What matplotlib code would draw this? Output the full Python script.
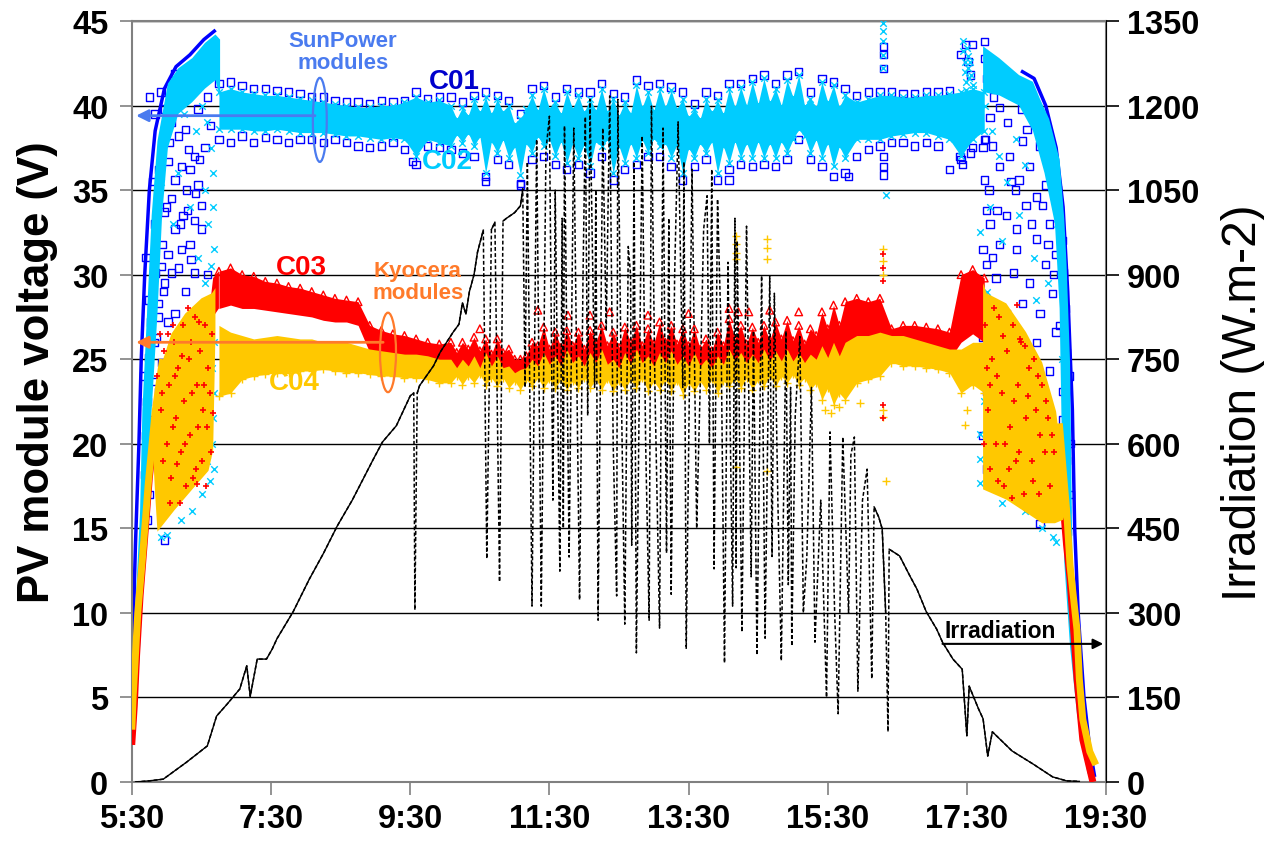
import numpy as np
import matplotlib
matplotlib.use("Agg")
import matplotlib.pyplot as plt
from matplotlib.patches import Ellipse

plt.rcParams['font.family'] = ['Liberation Sans', 'DejaVu Sans']
plt.rcParams['font.weight'] = 'bold'

BLUE = '#0000FF'
CYAN = '#00CCFF'
RED = '#FF0000'
YELLOW = '#FFC800'
SUNPOWER = '#4A7BEF'
KYOCERA = '#FF7A2A'


def hours(clock):
    h, m = clock.split(':')
    return int(h) + int(m) / 60


def unzip(pairs):
    return np.array([hours(c) for c, _ in pairs]), np.array([v for _, v in pairs])


# ---- logger samples: 10 min in the morning / evening, 5 min around noon
band_t = np.r_[np.arange(6 * 60 + 45, 10 * 60, 10),
               np.arange(10 * 60 + 5, 15 * 60 + 46, 5),
               np.arange(15 * 60 + 55, 17 * 60 + 46, 10)] / 60
c01_t = np.arange(6 * 60 + 45, 17 * 60 + 46, 10) / 60

c01_hi = [41.3, 41.4, 41.2, 41.0, 41.0, 40.9, 40.8, 40.7, 40.5, 40.5, 40.3, 40.2, 40.2, 40.1, 40.3, 40.2, 40.3, 40.8, 40.4, 40.5,
          40.5, 40.2, 40.6, 40.8, 40.6, 40.3, 39.5, 41.0, 41.2, 40.5, 41.0, 40.8, 40.8, 41.3, 40.7, 40.5, 41.5, 41.2, 41.3, 41.1,
          40.8, 40.1, 40.8, 40.6, 41.3, 41.3, 41.6, 41.8, 41.3, 41.8, 42.0, 40.8, 41.6, 41.4, 41.0, 40.6, 40.8, 40.8, 40.8, 40.7,
          40.7, 40.8, 40.8, 40.9, 43.0, 43.6, 43.8]
c01_lo = [38.0, 37.8, 38.2, 37.8, 38.1, 38.0, 37.8, 38.0, 38.0, 37.8, 38.0, 37.8, 37.6, 37.5, 37.6, 37.8, 37.4, 36.5, 37.6, 37.5,
          37.4, 37.2, 37.0, 35.8, 36.8, 36.5, 35.4, 36.8, 37.0, 36.5, 36.2, 36.5, 36.0, 37.0, 35.6, 36.2, 36.5, 37.0, 37.0, 36.4,
          35.6, 36.4, 36.8, 35.6, 36.2, 36.5, 36.4, 36.5, 36.4, 36.8, 38.0, 36.8, 36.4, 35.8, 36.0, 37.0, 37.4, 37.6, 37.8, 37.8,
          37.6, 37.8, 37.6, 36.2, 36.8, 37.5, 38.0]

c02_hi = [40.8, 41.0, 40.8, 40.7, 40.6, 40.6, 40.5, 40.4, 40.3, 40.2, 40.1, 40.0, 39.9, 39.9, 40.0, 40.0, 40.2, 40.5, 40.2, 40.3,
          40.0, 39.2, 39.9, 39.4, 40.4, 39.6, 40.5, 39.5, 40.4, 39.6,
          40.0, 38.9, 39.2, 39.8, 40.6, 39.7, 41.0, 39.8, 40.2, 39.5,
          40.8, 39.8, 40.6, 39.6, 40.4, 39.7, 41.0, 39.6, 40.4, 39.4,
          40.2, 39.5, 41.2, 39.9, 40.8, 39.7, 41.0, 39.9, 40.9, 39.8,
          40.4, 39.3, 39.8, 39.2, 40.4, 39.6, 40.3, 39.5, 41.0, 39.9,
          41.1, 40.0, 41.4, 40.1, 41.6, 40.2, 41.0, 40.0, 41.5, 40.5,
          41.8, 40.0, 40.4, 39.9, 41.4, 40.2, 41.2, 39.9, 40.6,
          40.2, 40.4, 40.6, 40.6, 40.5, 40.5, 40.6, 40.6, 40.7, 40.8, 41.0, 40.8]
c02_lo = [38.6, 38.6, 38.6, 38.5, 38.5, 38.6, 38.5, 38.4, 38.4, 38.4, 38.3, 38.2, 38.2, 38.1, 38.0, 38.1, 38.0, 37.0, 38.0, 37.8,
          37.6, 38.3, 37.8, 38.4, 37.6, 38.2, 36.0, 37.9, 37.2, 38.0,
          36.9, 37.6, 35.9, 37.8, 37.2, 38.2, 37.6, 38.0, 37.0, 37.9,
          36.6, 37.8, 36.9, 37.7, 36.4, 37.9, 37.6, 38.0, 36.0, 37.6,
          36.6, 37.8, 36.9, 38.0, 37.2, 38.1, 37.6, 37.8, 36.9, 37.7,
          36.0, 37.5, 36.9, 37.8, 37.2, 37.9, 36.0, 37.6, 36.6, 37.9,
          36.9, 37.8, 36.9, 37.9, 36.9, 37.8, 36.9, 37.9, 37.2, 38.0,
          38.6, 38.2, 37.2, 38.0, 36.9, 37.8, 36.4, 37.6, 36.9,
          38.0, 38.0, 38.0, 38.2, 38.3, 38.4, 38.4, 38.2, 38.0, 37.0, 38.0, 38.5]
c03_hi = [30.2, 30.4, 30.0, 29.9, 29.6, 29.5, 29.3, 29.2, 29.0, 28.8, 28.6, 28.5, 28.4, 27.0, 26.7, 26.5, 26.4, 26.2, 26.0, 25.9,
          26.0, 25.4, 26.0, 25.6, 26.3, 25.5, 26.2, 25.3, 26.2, 25.4,
          25.6, 25.0, 25.0, 25.2, 26.0, 25.8, 26.9, 25.6, 26.6, 25.7,
          26.7, 25.8, 26.6, 25.6, 26.7, 26.0, 27.0, 25.8, 26.6, 25.7,
          26.9, 26.0, 27.0, 25.8, 26.8, 25.9, 27.2, 26.0, 27.0, 25.9,
          26.8, 25.8, 26.8, 25.6, 26.2, 25.5, 26.6, 25.8, 27.4, 26.2,
          27.0, 25.9, 26.9, 26.0, 27.0, 26.1, 27.2, 26.2, 27.3, 26.1,
          27.0, 25.9, 26.8, 26.4, 27.8, 26.8, 28.2, 27.0, 28.4,
          28.6, 28.4, 28.6, 26.8, 27.0, 27.0, 26.9, 26.8, 26.6, 30.0, 30.3, 29.8]
c03_lo = [28.0, 28.2, 28.0, 28.0, 27.9, 27.8, 27.7, 27.6, 27.5, 27.3, 27.2, 27.2, 27.0, 25.4, 25.2, 25.0, 24.9, 24.8, 24.7, 24.6,
          24.5, 24.3, 24.4, 24.3, 24.5, 24.2, 24.3, 24.2, 24.4, 24.3,
          24.2, 24.0, 24.0, 24.1, 24.3, 24.4, 24.5, 24.3, 24.4, 24.2,
          24.3, 24.2, 24.4, 24.2, 24.3, 24.3, 24.5, 24.2, 24.2, 24.1,
          24.4, 24.3, 24.3, 24.2, 24.4, 24.2, 24.5, 24.3, 24.3, 24.2,
          24.2, 24.1, 24.3, 24.2, 24.2, 24.1, 24.2, 24.2, 24.5, 24.3,
          24.3, 24.2, 24.3, 24.2, 24.4, 24.3, 24.5, 24.3, 24.5, 24.4,
          24.4, 24.3, 24.3, 24.4, 24.6, 24.5, 25.0, 24.8, 25.2,
          25.0, 25.2, 25.0, 25.4, 25.4, 25.3, 25.2, 25.1, 25.0, 26.0, 26.5, 26.0]
c04_hi = [27.0, 26.6, 26.4, 26.2, 26.3, 26.4, 26.3, 26.2, 26.2, 26.0, 26.0, 26.0, 25.8, 25.6, 25.5, 25.4, 25.3, 25.3, 25.2, 25.0,
          25.0, 24.5, 25.0, 24.6, 25.2, 24.5, 25.4, 24.6, 25.2, 24.5,
          24.6, 24.2, 24.4, 24.5, 25.0, 24.6, 25.4, 24.7, 25.2, 24.6,
          25.6, 24.8, 25.2, 24.6, 25.4, 24.8, 25.6, 24.7, 25.0, 24.5,
          25.4, 24.7, 25.6, 24.8, 25.2, 24.6, 25.4, 24.8, 25.5, 24.7,
          25.2, 24.6, 25.4, 24.6, 25.0, 24.5, 25.2, 24.7, 25.6, 24.9,
          25.4, 24.8, 25.3, 24.8, 25.6, 24.9, 25.5, 24.9, 25.6, 24.9,
          25.4, 24.8, 25.3, 25.0, 25.8, 25.1, 26.0, 25.2, 26.0,
          26.4, 26.4, 26.6, 26.4, 26.4, 26.2, 26.0, 25.8, 25.6, 25.6, 26.0, 26.0]
c04_lo = [22.8, 23.0, 23.8, 24.0, 24.1, 24.2, 24.2, 24.3, 24.3, 24.4, 24.3, 24.2, 24.2, 24.1, 24.0, 24.0, 23.9, 23.9, 23.8, 23.6,
          23.6, 24.0, 23.5, 24.0, 23.6, 24.1, 23.5, 23.9, 23.4, 23.9,
          23.3, 23.7, 23.2, 23.8, 23.4, 23.9, 23.3, 23.8, 23.3, 23.8,
          23.2, 23.7, 23.3, 23.9, 23.3, 23.8, 23.2, 23.8, 23.1, 23.7,
          23.2, 23.8, 23.3, 23.9, 23.1, 23.7, 23.2, 23.8, 23.1, 23.7,
          22.9, 23.6, 23.1, 23.7, 23.2, 23.8, 23.0, 23.7, 23.4, 23.9,
          23.3, 23.9, 23.2, 23.8, 23.4, 24.0, 23.4, 24.0, 23.6, 24.1,
          23.5, 23.9, 23.2, 23.6, 22.6, 23.3, 22.3, 23.0, 22.6,
          23.6, 23.8, 24.0, 24.8, 24.6, 24.6, 24.5, 24.4, 24.2, 23.0, 23.5, 23.0]

# ---- sunrise / sunset transients
c02_am_outer = [("5:30", 2.6), ("5:31", 6.0), ("5:33", 10.3), ("5:37", 16.0), ("5:39", 22.0), ("5:43", 27.7), ("5:47", 33.5),
                ("5:52", 37.9), ("6:01", 41.3), ("6:10", 42.2), ("6:22", 42.8), ("6:33", 43.7), ("6:42", 44.2), ("6:46", 43.9)]
c02_am_inner = [("5:33", 3.0), ("5:37", 8.0), ("5:40", 12.0), ("5:44", 16.0), ("5:47", 22.0), ("5:52", 27.7), ("5:56", 33.5),
                ("6:01", 37.5), ("6:10", 39.5), ("6:22", 40.2), ("6:33", 41.0), ("6:42", 41.5), ("6:46", 40.5)]
c01_am_ramp = [("5:30", 4.0), ("5:31", 9.0), ("5:33", 14.0), ("5:36", 20.0), ("5:38", 25.0), ("5:41", 30.0), ("5:45", 35.0),
               ("5:50", 38.5), ("5:58", 41.0), ("6:08", 42.3), ("6:20", 43.0), ("6:32", 43.9), ("6:41", 44.4)]
c04_am_poly = [("5:47", 21.0), ("5:56", 24.8), ("6:04", 26.5), ("6:16", 27.7), ("6:30", 28.6), ("6:39", 28.9), ("6:42", 29.2),
               ("6:42", 26.5), ("6:40", 19.6), ("6:36", 18.4), ("6:22", 17.3), ("6:07", 16.1), ("5:52", 14.8), ("5:50", 17.0)]
c04_am_ramp = [("5:30", 3.3), ("5:31", 5.0), ("5:33", 7.5), ("5:35", 10.0), ("5:39", 13.2), ("5:44", 17.6), ("5:50", 21.9),
               ("5:56", 24.8)]
c03_am_ramp = [("5:30", 2.4), ("5:32", 4.5), ("5:34", 7.5), ("5:37", 11.0), ("5:41", 14.5), ("5:45", 18.0), ("5:49", 20.5)]
c03_am_poly = [("6:38", 28.6), ("6:40", 29.8), ("6:45", 30.2), ("6:45", 28.0), ("6:40", 27.5)]

c02_pm_outer = [("17:44", 43.5), ("17:58", 42.8), ("18:15", 41.8), ("18:27", 41.4), ("18:33", 40.4), ("18:41", 39.2),
                ("18:50", 36.8), ("18:54", 33.3), ("18:56", 30.6), ("18:59", 24.8), ("19:00", 19.0), ("19:01", 13.2),
                ("19:05", 8.9), ("19:10", 4.6), ("19:18", 0.5), ("19:20", 0.3)]
c02_pm_inner = [("17:44", 40.8), ("17:58", 40.6), ("18:15", 40.0), ("18:27", 38.5), ("18:37", 36.0), ("18:46", 33.0),
                ("18:50", 28.0), ("18:52", 20.0), ("18:54", 13.0), ("18:59", 8.0), ("19:05", 4.0), ("19:14", 0.5)]
c01_pm_ramp = [("18:18", 42.0), ("18:28", 41.6), ("18:38", 40.0), ("18:47", 37.5), ("18:53", 34.0), ("18:57", 29.0),
               ("19:01", 22.0), ("19:03", 15.0), ("19:06", 10.0), ("19:11", 5.0), ("19:16", 2.0), ("19:20", 0.4)]
c04_pm_poly = [("17:44", 29.5), ("17:47", 28.9), ("18:04", 28.3), ("18:21", 26.6), ("18:35", 24.8), ("18:47", 21.9),
               ("18:53", 18.5), ("18:56", 16.1), ("18:53", 15.5), ("18:46", 15.3), ("18:35", 15.3), ("18:24", 15.8),
               ("18:04", 16.7), ("17:44", 17.3)]
c04_pm_ramp = [("18:50", 21.0), ("18:53", 18.5), ("18:56", 16.1), ("18:59", 12.8), ("19:01", 11.5), ("19:05", 9.0),
               ("19:07", 6.1), ("19:10", 3.7), ("19:16", 1.8), ("19:20", 1.2)]
c03_pm_ramp = [("18:50", 19.5), ("18:53", 16.5), ("18:56", 14.0), ("18:59", 12.0), ("19:05", 6.1), ("19:10", 2.5),
               ("19:18", 0.2)]

# ---- scattered samples (unstable readings at dawn / dusk and spikes)
c01_pts = [("6:07", 41.9), ("6:21", 41.2), ("6:04", 39.0), ("6:10", 38.2), ("6:19", 37.4), ("6:01", 36.7), ("6:13", 36.4),
           ("6:24", 37.0), ("6:07", 35.6), ("6:17", 35.0), ("6:04", 34.5), ("5:58", 33.7), ("6:14", 33.5), ("6:24", 33.2),
           ("6:07", 32.7), ("5:56", 31.8), ("6:20", 31.8), ("6:01", 31.2), ("6:10", 30.4), ("5:50", 30.1), ("6:24", 30.1),
           ("5:58", 29.5), ("6:16", 29.0), ("5:53", 28.3), ("6:07", 27.7), ("5:46", 27.2), ("6:01", 27.2), ("5:51", 26.3),
           ("5:44", 25.1), ("5:56", 24.8), ("5:48", 23.7), ("5:43", 22.5), ("5:53", 23.1), ("5:47", 21.4), ("5:44", 19.9),
           ("5:41", 18.2), ("5:58", 14.3), ("6:30", 32.7), ("6:30", 34.1), ("6:27", 35.3), ("6:20", 36.2), ("5:53", 27.5),
           ("5:47", 28.0), ("5:57", 29.0), ("6:13", 31.5), ("6:04", 30.1), ("6:21", 30.9),
           ("5:45", 40.5), ("5:50", 39.5), ("5:55", 40.8), ("6:12", 40.2), ("6:27", 39.8), ("6:35", 40.5), ("5:48", 35.5),
           ("5:53", 36.2), ("6:00", 34.0), ("6:16", 38.6), ("6:25", 34.8), ("6:33", 37.5), ("5:42", 31.0), ("5:50", 33.0),
           ("5:55", 30.5), ("6:12", 33.0), ("6:18", 33.8), ("6:35", 30.0), ("5:40", 24.0), ("5:44", 28.5), ("5:49", 26.0),
           ("5:42", 20.5), ("5:45", 17.0), ("5:43", 15.5), ("6:28", 36.8), ("6:38", 38.8), ("6:02", 37.8), ("5:58", 39.8),
           ("17:45", 42.8), ("17:47", 41.6), ("17:50", 39.3), ("17:52", 37.6), ("17:45", 35.6), ("17:58", 36.4), ("18:07", 37.0),
           ("18:15", 35.6), ("18:24", 36.4), ("18:33", 37.6), ("18:38", 35.3), ("18:21", 34.1), ("18:04", 33.5), ("17:50", 33.0),
           ("17:58", 31.8), ("18:13", 31.5), ("18:30", 32.1), ("18:41", 33.0), ("17:47", 30.6), ("17:55", 29.8), ("18:10", 30.1),
           ("18:24", 29.5), ("18:38", 30.6), ("18:47", 31.2), ("17:50", 28.3), ("18:04", 27.7), ("18:18", 28.3), ("18:33", 27.7),
           ("18:44", 28.9), ("18:53", 30.1), ("17:44", 26.3), ("18:01", 25.4), ("18:15", 24.8), ("18:30", 26.0), ("18:47", 26.6),
           ("18:56", 25.4), ("17:47", 23.1), ("18:07", 23.1), ("18:41", 24.3), ("18:53", 23.1), ("17:44", 20.5), ("18:21", 19.9),
           ("18:53", 21.4), ("18:56", 19.0), ("17:47", 18.5), ("18:24", 16.4), ("18:33", 15.3), ("18:56", 16.1), ("18:13", 32.7),
           ("18:35", 34.1), ("18:18", 37.9), ("17:58", 39.9),
           ("17:46", 38.0), ("17:49", 35.0), ("17:53", 40.5), ("18:00", 41.0), ("18:05", 39.0), ("18:09", 41.5), ("18:12", 35.0),
           ("18:17", 39.8), ("18:22", 38.6), ("18:27", 39.6), ("18:30", 34.6), ("18:36", 38.8), ("18:44", 36.5), ("18:48", 35.0),
           ("18:52", 32.0), ("18:55", 28.0), ("18:58", 24.0), ("18:59", 20.0), ("18:59", 17.0), ("18:57", 14.8), ("18:50", 27.0),
           ("18:45", 30.0), ("18:26", 33.0), ("18:08", 35.5), ("17:56", 33.8), ("17:52", 31.0), ("17:44", 31.5), ("17:44", 37.5),
           ("17:47", 33.8), ("18:40", 31.8),
           ("16:18", 43.5), ("16:18", 43.0), ("16:18", 42.2), ("16:18", 37.0), ("16:18", 36.4), ("16:18", 35.9), ("9:32", 36.7),
           ("17:24", 37.0), ("17:26", 36.5), ("17:33", 37.2), ("15:48", 35.8), ("14:05", 35.6), ("10:35", 35.5), ("11:05", 35.3),
           ("17:29", 43.6), ("17:31", 42.6), ("17:33", 41.8)]
c02_pts = [("6:30", 40.0), ("6:35", 39.0), ("6:38", 37.5), ("6:40", 36.0), ("6:33", 35.0), ("6:40", 34.0), ("6:36", 33.0),
           ("6:41", 31.5), ("6:38", 30.5), ("6:33", 29.5), ("6:40", 28.5), ("6:37", 27.5), ("6:41", 26.0), ("6:39", 24.5),
           ("6:41", 23.0), ("6:40", 21.5), ("6:39", 20.0), ("6:41", 18.5), ("6:37", 17.8), ("6:30", 17.0), ("6:22", 16.0),
           ("6:12", 15.5), ("6:00", 14.6), ("5:55", 14.5), ("6:25", 38.5), ("6:15", 39.5), ("6:20", 34.0), ("6:27", 31.0),
           ("6:10", 36.0), ("6:05", 33.0), ("6:00", 38.5), ("5:55", 35.5), ("5:50", 31.0), ("6:18", 27.5), ("6:26", 25.0),
           ("6:33", 22.0), ("6:35", 19.0),
           ("17:41", 32.5), ("17:41", 20.6), ("17:41", 19.1), ("17:41", 17.7), ("16:20", 34.7), ("16:18", 44.9), ("16:18", 44.4),
           ("16:18", 43.8), ("16:18", 43.0), ("16:18", 42.2), ("17:46", 40.0), ("17:52", 38.5), ("17:58", 37.0), ("18:05", 35.5),
           ("18:12", 38.0), ("18:20", 36.5), ("17:50", 34.0), ("18:00", 32.0), ("18:15", 33.5), ("18:28", 31.0), ("18:40", 29.5),
           ("17:47", 29.0), ("17:55", 26.0), ("18:10", 24.0), ("18:30", 28.5), ("18:42", 22.0), ("17:45", 22.5), ("17:50", 17.5),
           ("18:00", 16.5), ("18:20", 16.0), ("18:35", 15.0), ("18:44", 14.5), ("18:47", 14.2), ("18:10", 20.5), ("18:48", 33.0),
           ("18:52", 25.0),
           ("17:27", 43.8), ("17:27", 43.2), ("17:28", 42.6), ("17:28", 42.0), ("17:29", 41.4), ("17:30", 43.4), ("17:31", 42.9),
           ("17:31", 42.2), ("17:32", 41.6), ("17:33", 42.6), ("17:34", 41.8), ("17:35", 41.2), ("17:29", 40.9)]
c03_pts = [("5:52", 24.0), ("5:55", 22.0), ("5:58", 25.5), ("6:00", 20.0), ("6:02", 23.5), ("6:04", 18.0), ("6:06", 26.0),
           ("6:08", 21.5), ("6:10", 24.5), ("6:12", 19.5), ("6:14", 27.0), ("6:15", 22.5), ("6:17", 17.5), ("6:19", 25.0),
           ("6:20", 20.5), ("6:22", 23.0), ("6:24", 27.5), ("6:25", 18.5), ("6:27", 21.0), ("6:29", 25.5), ("6:30", 19.0),
           ("6:32", 23.5), ("6:33", 27.0), ("6:35", 21.0), ("6:36", 24.5), ("6:38", 19.5), ("6:39", 26.5), ("5:57", 19.0),
           ("6:03", 16.5), ("6:11", 16.5), ("6:18", 28.0), ("6:26", 23.5), ("6:34", 17.5), ("5:54", 26.5), ("6:07", 24.0),
           ("6:21", 26.0), ("5:56", 23.0), ("6:01", 26.5), ("6:05", 21.0), ("6:09", 18.8), ("6:13", 25.2), ("6:16", 20.0),
           ("6:23", 18.0), ("6:28", 27.2), ("6:31", 22.0), ("6:37", 23.0), ("6:40", 21.8), ("6:05", 27.0), ("6:26", 17.6),
           ("17:46", 27.0), ("17:48", 22.0), ("17:50", 18.5), ("17:52", 25.0), ("17:55", 20.0), ("17:58", 27.5), ("18:00", 23.0),
           ("18:02", 17.5), ("18:05", 25.5), ("18:07", 21.0), ("18:10", 27.0), ("18:12", 19.0), ("18:14", 23.5), ("18:17", 26.0),
           ("18:19", 17.0), ("18:21", 21.5), ("18:24", 24.5), ("18:26", 19.0), ("18:28", 25.0), ("18:30", 22.0), ("18:32", 17.0),
           ("18:35", 23.5), ("18:37", 19.5), ("18:40", 21.5), ("18:42", 17.5), ("18:45", 19.5), ("17:47", 24.5), ("17:53", 28.0),
           ("18:03", 20.0), ("18:16", 26.2), ("17:45", 20.0), ("18:09", 16.8), ("18:33", 20.5), ("18:20", 25.8),
           ("17:50", 23.5), ("17:56", 24.0), ("18:01", 26.4), ("18:06", 18.5), ("18:11", 22.5), ("18:15", 19.5), ("18:23", 22.8),
           ("18:27", 17.8), ("18:31", 24.0), ("18:38", 22.5), ("18:43", 20.5), ("17:57", 17.8), ("18:13", 28.2),
           ("16:18", 31.2), ("16:18", 30.4), ("16:18", 29.6), ("16:18", 21.5), ("16:18", 22.3)]
c03_tri = [("11:20", 27.9), ("11:46", 27.6), ("12:22", 27.8), ("12:55", 27.6), ("13:30", 27.7), ("14:05", 28.0),
           ("14:13", 27.8), ("14:22", 27.8), ("14:40", 27.9), ("15:05", 27.8), ("10:30", 26.8), ("12:05", 27.6)]
c04_pts = [("14:11", 32.3), ("14:11", 31.8), ("14:11", 31.3), ("14:11", 30.9), ("14:38", 32.1), ("14:38", 31.6),
           ("14:38", 30.9), ("14:11", 18.6), ("14:38", 18.4), ("16:18", 31.5), ("16:18", 30.8), ("16:18", 30.0),
           ("16:18", 22.0), ("16:18", 21.6), ("16:20", 17.8), ("15:28", 22.0), ("15:33", 21.8), ("15:40", 22.2),
           ("17:28", 21.1), ("17:30", 22.0), ("15:58", 22.4)]

# ---- irradiation (right axis, W.m-2)
irradiation = [
    ("5:33", 0), ("5:45", 2), ("5:57", 5), ("6:17", 35), ("6:35", 64), ("6:43", 117), ("6:52", 138), ("7:03", 165),
    ("7:09", 206), ("7:12", 152), ("7:18", 218), ("7:26", 218), ("7:31", 236), ("7:35", 254), ("7:49", 302), ("8:03", 360),
    ("8:15", 405), ("8:27", 454), ("8:40", 500), ("8:50", 540), ("8:58", 572), ("9:06", 603), ("9:18", 632), ("9:30", 685),
    ("9:33", 690), ("9:34", 305), ("9:36", 690), ("9:38", 703), ("9:50", 738), ("9:56", 763), ("10:07", 798),
    ("10:12", 812), ("10:15", 850), ("10:18", 830), ("10:21", 870), ("10:25", 900), ("10:28", 940), ("10:33", 979),
    ("10:36", 396), ("10:40", 980), ("10:43", 993), ("10:47", 355), ("10:50", 995), ("10:53", 1000), ("11:00", 1010),
    ("11:05", 1022), ("11:07", 1052), ("11:09", 700), ("11:11", 1100), ("11:15", 312), ("11:19", 1140), ("11:23", 312),
    ("11:27", 1120), ("11:30", 1181), ("11:33", 500), ("11:35", 1050), ("11:39", 374), ("11:41", 1000), ("11:42", 450),
    ("11:43", 1164), ("11:47", 399), ("11:51", 1160), ("11:56", 323), ("11:59", 900), ("12:01", 1180), ("12:03", 650),
    ("12:05", 1211), ("12:09", 700), ("12:10", 1050), ("12:12", 287), ("12:16", 1160), ("12:19", 800), ("12:22", 1217),
    ("12:25", 600), ("12:28", 330), ("12:29", 1211), ("12:32", 700), ("12:35", 280), ("12:38", 950), ("12:40", 900),
    ("12:41", 420), ("12:43", 1100), ("12:45", 229), ("12:50", 1146), ("12:53", 600), ("12:56", 287), ("12:58", 1199),
    ("13:01", 700), ("13:05", 273), ("13:08", 1160), ("13:11", 406), ("13:13", 1000), ("13:15", 333), ("13:18", 900),
    ("13:21", 1171), ("13:25", 700), ("13:26", 1100), ("13:28", 236), ("13:33", 1087), ("13:37", 450), ("13:40", 700),
    ("13:43", 980), ("13:46", 1040), ("13:48", 600), ("13:50", 1087), ("13:52", 378), ("13:55", 1034), ("13:58", 800),
    ("14:01", 211), ("14:04", 922), ("14:08", 312), ("14:10", 1000), ("14:11", 380), ("14:12", 960), ("14:16", 266),
    ("14:20", 986), ("14:24", 364), ("14:26", 800), ("14:29", 225), ("14:33", 898), ("14:36", 255), ("14:40", 898),
    ("14:42", 400), ("14:44", 867), ("14:47", 500), ("14:50", 215), ("14:54", 800), ("14:56", 350), ("14:58", 700),
    ("14:59", 241), ("15:02", 650), ("15:06", 790), ("15:09", 300), ("15:12", 400), ("15:16", 700), ("15:19", 248),
    ("15:24", 500), ("15:29", 150), ("15:32", 621), ("15:36", 300), ("15:39", 121), ("15:43", 612), ("15:48", 300),
    ("15:50", 580), ("15:53", 612), ("15:56", 161), ("16:00", 500), ("16:04", 555), ("16:08", 183), ("16:10", 488),
    ("16:14", 470), ("16:17", 449), ("16:20", 300), ("16:22", 89), ("16:23", 413), ("16:32", 401), ("16:41", 365),
    ("16:47", 342), ("16:55", 302), ("17:04", 271), ("17:09", 248), ("17:18", 218), ("17:26", 200), ("17:30", 82),
    ("17:32", 170), ("17:34", 160), ("17:40", 130), ("17:44", 112), ("17:48", 46), ("17:52", 89), ("18:09", 55),
    ("18:27", 32), ("18:44", 9), ("18:56", 2), ("19:07", 1)]

x_ticks = ["5:30", "7:30", "9:30", "11:30", "13:30", "15:30", "17:30", "19:30"]

fig, ax = plt.subplots(figsize=(12.64, 8.45), dpi=100)
fig.subplots_adjust(left=0.1044, right=0.875, bottom=0.0734, top=0.974)

sq = dict(marker='s', s=28, facecolors='none', edgecolors=BLUE, lw=1)

# C01 (blue squares)
ax.scatter(np.r_[c01_t, c01_t], np.r_[c01_hi, c01_lo], zorder=2, **sq)
for ramp in (c01_am_ramp, c01_pm_ramp):
    t, v = unzip(ramp)
    ax.plot(t, v, color=BLUE, lw=2.5, zorder=2)
t, v = unzip(c01_pts)
ax.scatter(t, v, zorder=2, **sq)

# C02 (cyan crosses)
ax.fill_between(band_t, c02_lo, c02_hi, color=CYAN, lw=0, zorder=3)
ax.scatter(np.r_[band_t, band_t], np.r_[c02_hi, c02_lo], marker='x', s=22, color=CYAN, lw=1, zorder=3)
for outer, inner in ((c02_am_outer, c02_am_inner), (c02_pm_outer, c02_pm_inner)):
    t1, v1 = unzip(outer)
    t2, v2 = unzip(inner)
    ax.fill(np.r_[t1, t2[::-1]], np.r_[v1, v2[::-1]], color=CYAN, lw=0, zorder=3)
t, v = unzip(c02_pts)
ax.scatter(t, v, marker='x', s=22, color=CYAN, lw=1, zorder=3)

# C03 (red triangles)
ax.fill_between(band_t, c03_lo, c03_hi, color=RED, lw=0, zorder=4)
ax.scatter(band_t, c03_hi, marker='^', s=30, facecolors='none', edgecolors=RED, lw=1, zorder=4)
t, v = unzip(c03_am_poly)
ax.fill(t, v, color=RED, lw=0, zorder=4)
for ramp in (c03_am_ramp, c03_pm_ramp):
    t, v = unzip(ramp)
    ax.plot(t, v, color=RED, lw=5, zorder=4)
t, v = unzip(c03_tri)
ax.scatter(t, v, marker='^', s=30, facecolors='none', edgecolors=RED, lw=1, zorder=4)

# C04 (yellow plus)
ax.fill_between(band_t, c04_lo, c04_hi, color=YELLOW, lw=0, zorder=5)
ax.scatter(band_t, c04_lo, marker='+', s=30, color=YELLOW, lw=1, zorder=5)
for poly in (c04_am_poly, c04_pm_poly):
    t, v = unzip(poly)
    ax.fill(t, v, color=YELLOW, lw=0, zorder=5)
for ramp in (c04_am_ramp, c04_pm_ramp):
    t, v = unzip(ramp)
    ax.plot(t, v, color=YELLOW, lw=5, zorder=5)
t, v = unzip(c04_pts)
ax.scatter(t, v, marker='+', s=30, color=YELLOW, lw=1, zorder=5)
# red readings seen through the yellow clouds
t, v = unzip(c03_pts)
ax.scatter(t, v, marker='+', s=22, color=RED, lw=1.2, zorder=6)

ax.set_xlim(5.5, 19.5)
ax.set_ylim(0, 45)
ax.set_yticks(range(0, 46, 5))
ax.set_xticks([hours(c) for c in x_ticks])
ax.set_xticklabels(x_ticks)
ax.yaxis.grid(True, color='black', lw=1)
ax.set_axisbelow(True)
ax.tick_params(direction='out', length=9, width=1.2, color='#808080', labelsize=23.5, pad=6)
ax.tick_params(axis='y', pad=8)
for s in ax.spines.values():
    s.set_color('#808080')
    s.set_linewidth(1.5)
ax.set_ylabel('PV module voltage (V)', fontsize=31.5, fontweight='bold')
ax.yaxis.set_label_coords(-0.076, 0.54)

# annotations
ax.text(8.53, 43.2, 'SunPower\nmodules', color=SUNPOWER, fontsize=16, ha='center', va='center', linespacing=1.05, zorder=8)
ax.add_patch(Ellipse((8.20, 39.15), 0.2, 4.97, fill=False, edgecolor=SUNPOWER, lw=1.6, zorder=8))
ax.annotate('', xy=(5.52, 39.4), xytext=(8.17, 39.4),
            arrowprops=dict(arrowstyle='-|>', color=SUNPOWER, lw=2, mutation_scale=18), zorder=8)
ax.text(10.14, 41.45, 'C01', color='#0000CC', fontsize=20, ha='center', va='center', zorder=8)
ax.text(10.03, 36.7, 'C02', color=CYAN, fontsize=20, ha='center', va='center', zorder=8)
ax.text(7.94, 30.45, 'C03', color=RED, fontsize=20, ha='center', va='center', zorder=8)
ax.text(7.84, 23.65, 'C04', color=YELLOW, fontsize=20, ha='center', va='center', zorder=8)
ax.text(9.61, 29.6, 'Kyocera\nmodules', color=KYOCERA, fontsize=16, ha='center', va='center', linespacing=1.05, zorder=8)
ax.add_patch(Ellipse((9.18, 25.4), 0.23, 4.7, fill=False, edgecolor=KYOCERA, lw=1.6, zorder=8))
ax.annotate('', xy=(5.52, 26.0), xytext=(9.15, 26.0),
            arrowprops=dict(arrowstyle='-|>', color=KYOCERA, lw=2, mutation_scale=18), zorder=8)

# irradiation on the secondary axis: dashed where it fluctuates, solid where it is smooth
ax2 = ax.twinx()
it, iv = unzip(irradiation)
dip = np.zeros(len(iv), dtype=bool)
dip[1:-1] = (iv[1:-1] < iv[:-2] - 150) & (iv[1:-1] < iv[2:] - 150)
smooth = ((it < 11.12) | (it > 16.15)) & ~dip
ax2.plot(it, iv, color='black', lw=1.1, ls=(0, (2.5, 1.5)))
ax2.plot(it, np.where(smooth, iv, np.nan), color='black', lw=1.0)
ax2.set_ylim(0, 1350)
ax2.set_yticks(range(0, 1351, 150))
ax2.tick_params(direction='out', length=9, width=1.2, color='black', labelsize=23.5, pad=6)
for s in ax2.spines.values():
    s.set_visible(False)
ax2.spines['right'].set_visible(True)
ax2.spines['right'].set_color('black')
ax2.set_ylabel('Irradiation (W.m-2)', fontsize=34.5, fontweight='normal', labelpad=16)
ax2.text(17.98, 268, 'Irradiation', fontsize=16.5, ha='center', va='center')
ax2.annotate('', xy=(19.5, 245), xytext=(17.11, 245),
             arrowprops=dict(arrowstyle='-|>', color='black', lw=1.5, mutation_scale=15))

fig.savefig('out.png', dpi=100)
